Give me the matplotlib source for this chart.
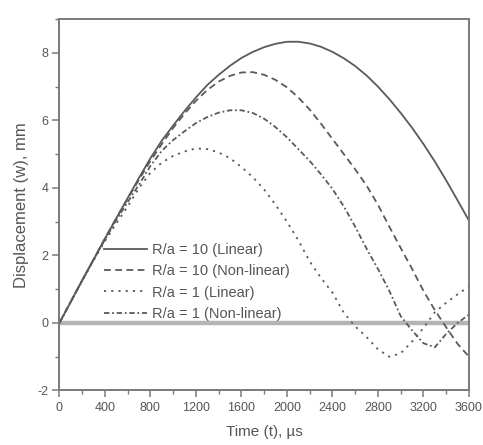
import matplotlib
matplotlib.use("Agg")
import matplotlib.pyplot as plt
from matplotlib.ticker import MultipleLocator

plt.rcParams["font.family"] = ["Liberation Sans", "DejaVu Sans"]
plt.rcParams["axes.unicode_minus"] = False

# time in microseconds, displacement in mm
time_us = list(range(0, 3700, 100))

w_ra10_linear = [
    0.0, 0.63, 1.26, 1.88, 2.5, 3.1, 3.7, 4.3, 4.88, 5.4,
    5.85, 6.28, 6.68, 7.05, 7.35, 7.62, 7.85, 8.03, 8.17, 8.27,
    8.33, 8.33, 8.28, 8.18, 8.03, 7.84, 7.61, 7.33, 7.0, 6.63,
    6.22, 5.78, 5.3, 4.78, 4.22, 3.63, 3.03,
]
w_ra10_nonlinear = [
    0.0, 0.63, 1.26, 1.88, 2.5, 3.1, 3.68, 4.25, 4.8, 5.3,
    5.78, 6.2, 6.58, 6.9, 7.15, 7.32, 7.42, 7.43, 7.35, 7.2,
    6.98, 6.68, 6.32, 5.9, 5.45, 5.0, 4.55, 4.07, 3.5, 2.85,
    2.22, 1.6, 0.95, 0.38, -0.13, -0.62, -1.0,
]
w_ra1_linear = [
    0.0, 0.63, 1.25, 1.85, 2.42, 2.95, 3.45, 4.0, 4.45, 4.75,
    4.95, 5.08, 5.17, 5.15, 5.05, 4.88, 4.62, 4.32, 3.95, 3.5,
    3.0, 2.45, 1.82, 1.33, 0.9, 0.3, -0.1, -0.42, -0.78, -1.0,
    -0.9, -0.55, -0.15, 0.32, 0.6, 0.85, 1.08,
]
w_ra1_nonlinear = [
    0.0, 0.63, 1.26, 1.87, 2.47, 3.05, 3.58, 4.1, 4.65, 5.1,
    5.42, 5.68, 5.92, 6.1, 6.23, 6.3, 6.3, 6.22, 6.05, 5.8,
    5.5, 5.15, 4.8, 4.4, 3.97, 3.45, 2.85, 2.2, 1.6, 0.95,
    0.2, -0.22, -0.6, -0.72, -0.32, 0.0, 0.25,
]

line_color = "#5a5a5a"
axis_color = "#7a7a7a"
text_color = "#555555"

fig = plt.figure(figsize=(4.83, 4.45), dpi=100)
ax = fig.add_axes([0.123, 0.1225, 0.848, 0.8345])

ax.axhline(0, color="#b4b4b4", lw=3.2, zorder=1)

ax.plot(time_us, w_ra10_linear, color=line_color, lw=1.3, ls="-",
        label="R/a = 10 (Linear)")
ax.plot(time_us, w_ra10_nonlinear, color=line_color, lw=1.3, ls=(0, (3.8, 2.4)),
        label="R/a = 10 (Non-linear)")
ax.plot(time_us, w_ra1_linear, color=line_color, lw=1.3, ls=(0, (1.2, 2.8)),
        label="R/a = 1 (Linear)")
ax.plot(time_us, w_ra1_nonlinear, color=line_color, lw=1.3, ls=(0, (3, 1.5, 1, 1.5)),
        label="R/a = 1 (Non-linear)")

ax.set_xlim(0, 3600)
ax.set_ylim(-2, 9)
ax.xaxis.set_major_locator(MultipleLocator(400))
ax.xaxis.set_minor_locator(MultipleLocator(200))
ax.yaxis.set_major_locator(MultipleLocator(2))
ax.yaxis.set_minor_locator(MultipleLocator(1))

for spine in ax.spines.values():
    spine.set_color(axis_color)
    spine.set_linewidth(1.4)

ax.tick_params(which="major", direction="out", length=5, width=1.1,
               color=axis_color, labelcolor=text_color, labelsize=9, pad=3)
ax.tick_params(which="minor", direction="out", length=3, width=1.0,
               color=axis_color)
ax.tick_params(top=False, right=False, which="both")

ax.set_xlabel("Time (t), µs", fontsize=11, color=text_color, labelpad=8)
ax.set_ylabel("Displacement (w), mm", fontsize=12, color=text_color, labelpad=6)

leg = ax.legend(loc="upper left", bbox_to_anchor=(0.095, 0.413), frameon=False,
                fontsize=10.5, handlelength=2.95, handletextpad=0.35,
                labelspacing=0.5, borderaxespad=0)
for txt in leg.get_texts():
    txt.set_color(text_color)

fig.savefig("out.png", dpi=100)
